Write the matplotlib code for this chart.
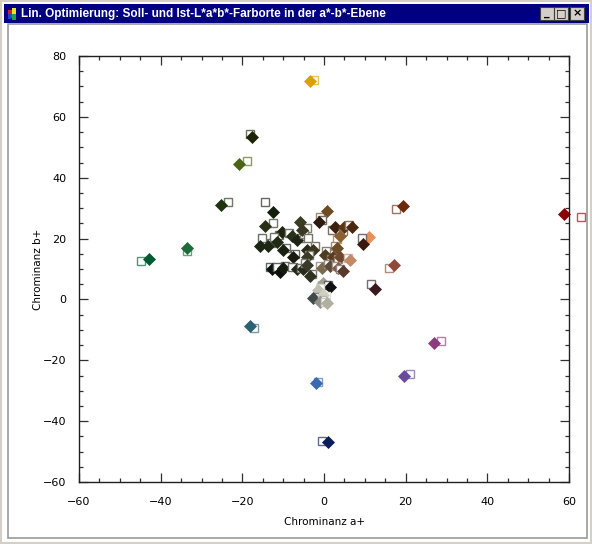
import matplotlib
matplotlib.use("Agg")
import matplotlib.pyplot as plt
from matplotlib.patches import Rectangle
from matplotlib.ticker import MultipleLocator
from matplotlib.colors import to_rgb

# ---------------- data ----------------
ist_a = [-3.4, -17.6, -20.8, -25.2, -33.6, -42.9, -18.1, -2.0, 1.0, 19.6, 26.9, 58.8,
         19.3, 17.1, 12.5, 11.0, 9.6, -12.4, -14.4, -10.4, -5.9, 0.7, -1.2, 2.7, 5.0,
         6.8, 3.9, -15.7, -13.6, -11.6, -10.0, -7.9, -6.7, -5.5, -4.2, -2.6, -7.5, -4.2,
         0.2, 3.1, 2.3, 3.9, 6.4, -12.8, -10.8, -10.0, -6.7, -5.1, -3.4, -4.2, -0.6, 1.5,
         3.5, 4.7, -0.2, 1.5, -1.4, -2.6, -0.2, -1.0, 0.7]
ist_b = [71.9, 53.4, 44.6, 31.1, 17.0, 13.3, -8.7, -27.5, -46.9, -25.2, -14.3, 28.1,
         30.8, 11.3, 3.5, 20.6, 18.3, 28.6, 24.2, 22.3, 25.3, 28.9, 25.3, 23.8, 23.9,
         23.9, 20.7, 17.6, 17.6, 19.0, 16.3, 20.7, 19.6, 22.9, 16.3, 16.3, 13.9, 13.9,
         14.6, 16.8, 14.1, 14.1, 13.0, 9.9, 9.1, 10.3, 9.9, 9.9, 7.7, 11.3, 10.3, 11.0,
         10.3, 9.5, 5.3, 4.2, 3.1, 0.4, 1.5, -0.7, -1.3]
soll_a = [-2.4, -18.1, -18.9, -23.5, -33.6, -44.8, -17.1, -1.5, -0.5, 21.1, 28.7, 62.9,
          17.6, 15.9, 11.5, 9.8, 9.2, -14.4, -12.5, -11.0, -4.2, -1.0, -0.5, 1.9, 4.6,
          6.0, 3.2, -15.3, -13.0, -12.3, -9.4, -8.6, -6.0, -5.0, -3.8, -2.2, -7.0, -3.6,
          0.6, 2.6, 1.8, 3.4, 5.8, -13.2, -11.6, -9.6, -7.9, -5.6, -3.0, -4.6, -1.0, 1.0,
          3.0, 4.0, -0.6, 0.9, -1.0, -1.8, 0.4, -0.4, 0.2]
soll_b = [72.2, 54.4, 45.6, 32.1, 16.0, 12.7, -9.4, -27.1, -46.5, -24.5, -13.7, 27.1,
          29.8, 10.4, 5.1, 19.9, 20.2, 32.1, 25.2, 21.2, 23.5, 27.2, 26.2, 22.9, 22.5,
          24.6, 19.8, 20.1, 18.4, 20.4, 17.0, 21.9, 20.2, 21.6, 20.1, 17.5, 14.8, 14.5,
          15.8, 17.5, 13.2, 13.4, 13.6, 10.7, 10.8, 11.0, 10.6, 10.4, 8.4, 12.0, 11.0, 11.8,
          11.0, 10.1, 4.6, 4.9, 3.6, 0.9, 1.0, -0.2, -0.8]
colors = ['#dea000', '#1c2404', '#4c6414', '#1c3210', '#1e6a3a', '#005a32', '#2a6274',
          '#3a6ab0', '#0a1c5c', '#6a4a9c', '#8c3c7c', '#8c0000', '#6a2a10', '#8c4a3a',
          '#3a1a20', '#e8905a', '#3a1a10', '#141c0c', '#2a3018', '#1e2410', '#3c3c20',
          '#6c4c20', '#2a1a10', '#3c2010', '#5a3414', '#4a2810', '#8c6030', '#1a2410',
          '#1c2612', '#202a14', '#1a2010', '#28301a', '#1e2414', '#3a3a22', '#2a2a18',
          '#3a3420', '#1a1a10', '#3a3a28', '#4c3c20', '#6c4c28', '#5a3a20', '#6c4830',
          '#c08a68', '#0a140a', '#0a100a', '#141c10', '#202818', '#2a2a1c', '#303020',
          '#3a3a28', '#7a6a50', '#5a4a38', '#7a5a48', '#5a3a30', '#a0a090', '#101010',
          '#c0c0b0', '#404848', '#d0d0c0', '#909088', '#b0b0a0']

x_ticks = [-60, -40, -20, 0, 20, 40, 60]
y_ticks = [-60, -40, -20, 0, 20, 40, 60, 80]
title = "Lin. Optimierung: Soll- und Ist-L*a*b*-Farborte in der a*-b*-Ebene"
xlabel = "Chrominanz a+"
ylabel = "Chrominanz b+"

# ---------------- figure / window frame ----------------
W, H = 592, 544
fig = plt.figure(figsize=(W / 100, H / 100), dpi=100, facecolor="white")


def box(x0, y0, x1, y1, zorder=5, **kw):
    r = Rectangle((x0 / W, 1 - y1 / H), (x1 - x0) / W, (y1 - y0) / H,
                  transform=fig.transFigure, zorder=zorder, **kw)
    fig.add_artist(r)
    return r


# outer window border
box(1, 1, 591, 543, facecolor="none", edgecolor="#d4d0c8", lw=1.5)
# client area sunken border
box(8, 24, 587, 538, facecolor="none", edgecolor="#9a9a9a", lw=1.2)
# title bar
box(4, 4, 589, 23, facecolor="#000080", edgecolor="none")
# icon
box(8, 10, 12, 18, facecolor="#d02020", edgecolor="none", zorder=6)
box(12, 8, 16, 14, facecolor="#f0e020", edgecolor="none", zorder=6)
box(12, 14, 16, 20, facecolor="#20a040", edgecolor="none", zorder=6)
box(8, 14, 11, 19, facecolor="#2040d0", edgecolor="none", zorder=6)
fig.text(21 / W, 1 - 13.5 / H, title, color="white", fontsize=8.5,
         fontweight="bold", family="Liberation Sans", va="center", ha="left",
         zorder=7)
# window buttons
for (bx, glyph) in [(540, "_"), (554, "□"), (570, "×")]:
    box(bx, 7, bx + 14, 20, facecolor="#d4d0c8", edgecolor="#404040", lw=0.8,
        zorder=6)
    fig.text((bx + 7) / W, 1 - 13.5 / H, glyph, color="black", fontsize=8,
             fontweight="bold", ha="center", va="center", zorder=7)

# ---------------- axes ----------------
ax = fig.add_axes([79 / W, 1 - 482 / H, 490 / W, 426 / H])
ax.set_facecolor("white")
ax.set_xlim(-60, 60)
ax.set_ylim(-60, 80)


def lighten(c, f=0.35):
    r, g, b = to_rgb(c)
    return (r + (1 - r) * f, g + (1 - g) * f, b + (1 - b) * f)


for i in range(len(ist_a)):
    ax.plot(soll_a[i], soll_b[i], marker="s", ms=5.4, mfc="white",
            mec=lighten(colors[i]), mew=1.0, ls="none", zorder=2 + 2 * i,
            clip_on=False)
    ax.plot(ist_a[i], ist_b[i], marker="D", ms=6.4, mfc=colors[i],
            mec=colors[i], mew=0.5, ls="none", zorder=3 + 2 * i,
            clip_on=False)

ax.set_xticks(x_ticks)
ax.set_yticks(y_ticks)
ax.xaxis.set_minor_locator(MultipleLocator(5))
ax.yaxis.set_minor_locator(MultipleLocator(5))
ax.tick_params(which="both", direction="in", top=True, right=True,
               color="#303030", width=0.9, labelsize=8, labelcolor="black")
ax.tick_params(which="major", length=6.5)
ax.tick_params(which="minor", length=3.2)
ax.tick_params(axis="x", which="major", pad=11)
ax.tick_params(axis="y", which="major", pad=9)
for s in ax.spines.values():
    s.set_color("#202020")
    s.set_linewidth(1.0)
    s.set_zorder(200)

fig.text(324 / W, 1 - 522 / H, xlabel, fontsize=7.5, ha="center", va="center")
fig.text(38 / W, 1 - 269 / H, ylabel, fontsize=7.5, ha="center", va="center",
         rotation=90)

fig.savefig("out.png", dpi=100, facecolor="white")
